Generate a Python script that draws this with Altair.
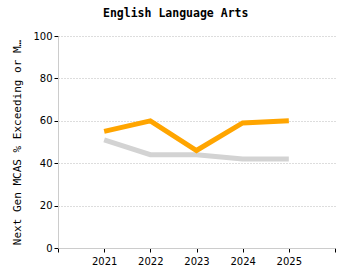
import altair as alt
import pandas as pd

years = [2021, 2022, 2023, 2024, 2025]
district = [55, 60, 46, 59, 60]
state = [51, 44, 44, 42, 42]

df_d = pd.DataFrame({"year": years, "value": district})
df_s = pd.DataFrame({"year": years, "value": state})

x = alt.X(
    "year:Q",
    scale=alt.Scale(domain=[2020, 2026], nice=False),
    axis=alt.Axis(
        values=[2020, 2021, 2022, 2023, 2024, 2025, 2026],
        labelExpr="datum.value >= 2021 && datum.value <= 2025 ? format(datum.value, 'd') : ''",
        title=None,
        grid=False,
        domainColor="#cccccc",
        tickColor="#000000",
        tickSize=4,
        labelFont="DejaVu Sans",
        labelFontSize=10,
        labelColor="#000000",
        labelPadding=4,
    ),
)
y = alt.Y(
    "value:Q",
    scale=alt.Scale(domain=[0, 100], nice=False),
    axis=alt.Axis(
        values=[0, 20, 40, 60, 80, 100],
        title="Next Gen MCAS % Exceeding or Meeting Expectations",
        titleFont="DejaVu Sans Mono",
        titleFontSize=11,
        titleFontWeight="normal",
        titleColor="#000000",
        titleLimit=206,
        titlePadding=10,
        grid=True,
        gridColor="#bbbbbb",
        gridDash=[1, 2],
        gridWidth=1,
        domainColor="#cccccc",
        tickColor="#000000",
        tickSize=4,
        labelFont="DejaVu Sans",
        labelFontSize=10,
        labelColor="#000000",
        labelPadding=2,
    ),
)

state_line = alt.Chart(df_s).mark_line(strokeWidth=5, color="#D3D3D3").encode(x=x, y=y)
district_line = alt.Chart(df_d).mark_line(strokeWidth=5, color="#FFA500").encode(x=x, y=y)

chart = (
    alt.layer(state_line, district_line)
    .properties(
        width=277,
        height=212,
        title=alt.TitleParams(
            "English Language Arts",
            font="DejaVu Sans Mono",
            fontSize=11.5,
            fontWeight="bold",
            color="#000000",
            offset=12,
            frame="bounds",
            anchor="middle",
            dx=2,
        ),
        autosize=alt.AutoSizeParams(type="none"),
        padding={"left": 58, "top": 36, "right": 15, "bottom": 32},
    )
    .configure_view(stroke=None)
)

chart.save("out.html", embed_options={"renderer": "svg", "actions": False})
